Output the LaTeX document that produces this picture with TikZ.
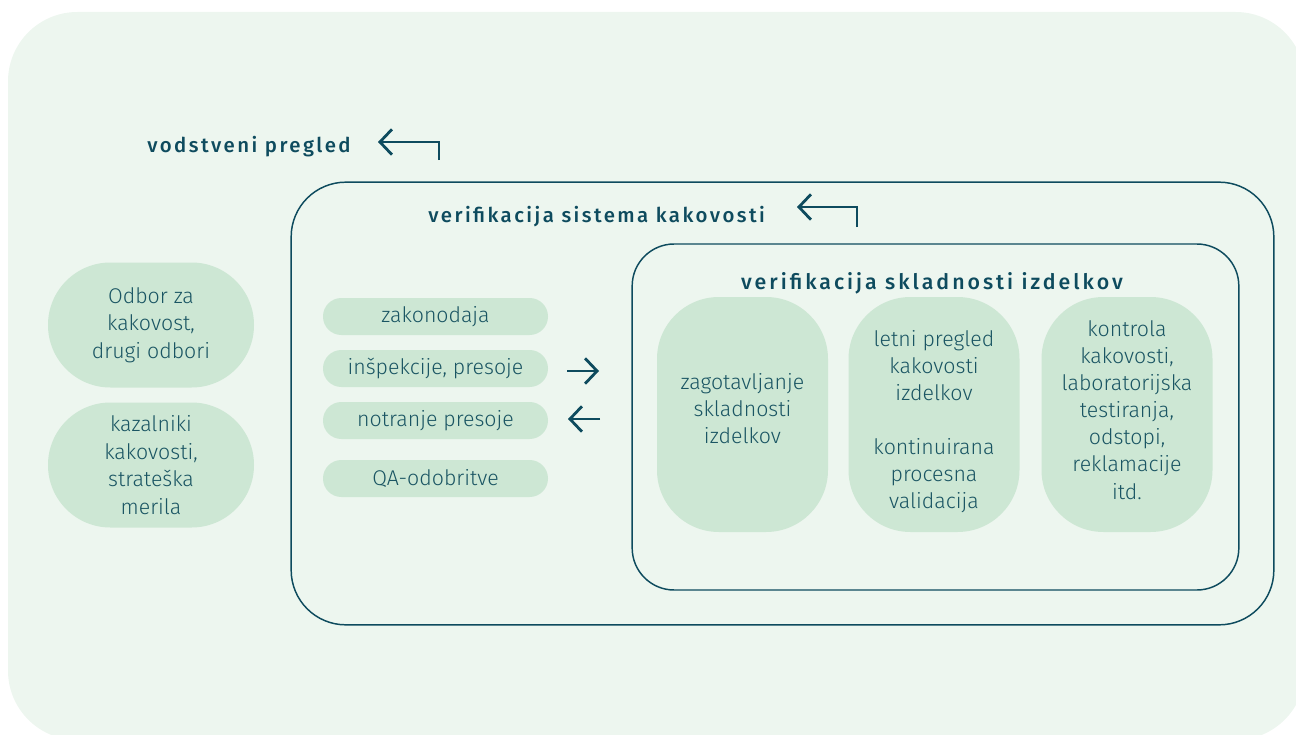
\documentclass[tikz,border=0pt]{standalone}
\usepackage{fontspec}
\setmainfont{Fira Sans Light}
\newfontfamily\headfont{Fira Sans Medium}[LetterSpace=12]
\newfontfamily\headfontb{Fira Sans Medium}[LetterSpace=14]
\usetikzlibrary{arrows.meta}
\definecolor{bgc}{HTML}{EDF6EF}
\definecolor{pillc}{HTML}{CDE7D4}
\definecolor{ink}{HTML}{0E4B5E}
\definecolor{txt}{HTML}{1A5563}
\begin{document}
\begin{tikzpicture}[x=0.75pt,y=-0.75pt,
  frame/.style={draw=ink, line width=1.1pt, fill=none, inner sep=0pt},
  pill/.style={fill=pillc, draw=none, text=txt, font=\fontsize{16}{20.6}\selectfont, align=center, inner sep=0pt},
  ptext/.style={text=txt, font=\fontsize{16}{20.3}\selectfont, align=center, inner sep=0pt},
  head/.style={text=ink, font=\headfont\fontsize{15.3}{18}\selectfont, inner sep=0pt, anchor=base west},
  conn/.style={draw=ink, line width=2.1pt, -{Straight Barb[length=9pt,width=19pt]}}]
\useasboundingbox (0,0) rectangle (1296,735);
\clip (0,0) rectangle (1296,735);
% background panel
\fill[bgc, rounded corners=52pt] (8,12) rectangle (1305,740);

% frames
\node[frame, rounded corners=41pt, minimum width=737pt, minimum height=332pt] (sys) at (782.5,403.5) {};
\node[frame, rounded corners=31.5pt, minimum width=455pt, minimum height=259.5pt] (prod) at (935.5,417) {};

% headers
\node[head] (h1) at (147,152) {vodstveni pregled};
\node[head] (h2) at (428,222) {verifikacija sistema kakovosti};
\node[head, anchor=base, font=\headfontb\fontsize{16}{18}\selectfont] (h3) at (932,289) {verifikacija skladnosti izdelkov};

% header arrows
\coordinate (a1s) at (439,160);
\coordinate (a1e) at (378,142);
\draw[conn] (a1s) |- (a1e);
\coordinate (a2s) at (857,227);
\coordinate (a2e) at (797,207);
\draw[conn] (a2s) |- (a2e);

% left pills
\tikzset{bigpill/.style={pill, rounded corners=46.8pt, minimum width=154.5pt, minimum height=93.75pt}}
\node[bigpill] (odbor) at (151,325) {Odbor za\\kakovost,\\drugi odbori};
\node[bigpill] (kaz) at (151,465) {kazalniki\\kakovosti,\\strateška\\merila};

% small pills
\tikzset{smallpill/.style={pill, rounded corners=13.8pt, minimum width=168.75pt, minimum height=27.75pt}}
\node[smallpill] (zak) at (435.5,316.5) {zakonodaja};
\node[smallpill] (insp) at (435.5,368.5) {inšpekcije, presoje};
\node[smallpill] (notr) at (435.5,420.5) {notranje presoje};
\node[smallpill] (qa) at (435.5,478.5) {QA-odobritve};

% side arrows
\coordinate (r1) at (567,371);
\coordinate (r2) at (599,371);
\draw[conn] (r1) -- (r2);
\coordinate (l1) at (600,419);
\coordinate (l2) at (568,419);
\draw[conn] (l1) -- (l2);

% tall pills
\tikzset{tallpill/.style={pill, rounded corners=46.5pt, minimum width=128.25pt, minimum height=176.25pt}}
\node[tallpill] (p1) at (742.5,414.5) {};
\node[tallpill] (p2) at (934,414.5) {};
\node[tallpill] (p3) at (1127,414.5) {};
\node[ptext] (t1) at (742.5,409) {zagotavljanje\\skladnosti\\izdelkov};
\node[ptext] (t2) at (934,421.5) {letni pregled\\kakovosti\\izdelkov\\[20.3pt]kontinuirana\\procesna\\validacija};
\node[ptext] (t3) at (1127,410) {kontrola\\kakovosti,\\laboratorijska\\testiranja,\\odstopi,\\reklamacije\\itd.};
\end{tikzpicture}
\end{document}
